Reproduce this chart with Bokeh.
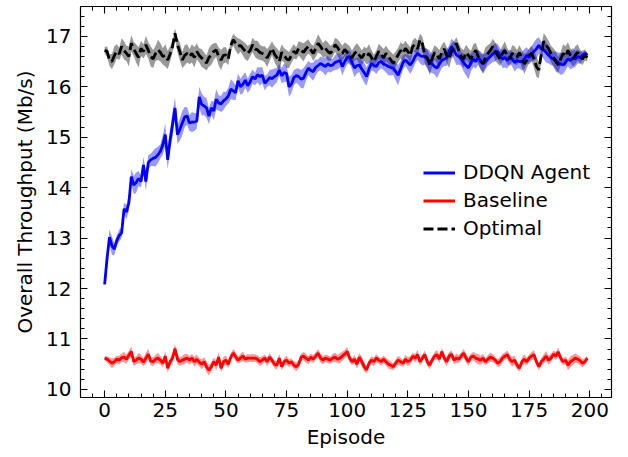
from bokeh.plotting import figure
from bokeh.models import (ColumnDataSource, Range1d, LinearAxis, SingleIntervalTicker,
                          Legend, LegendItem)
from bokeh.embed import file_html
from bokeh.resources import INLINE

episodes = list(range(200))

ddqn_mean = [
    12.08, 12.60, 13.02, 12.85, 12.78, 12.95, 13.05, 13.10, 13.58, 13.52,
    13.70, 14.22, 14.05, 14.10, 14.18, 14.12, 14.45, 14.12, 14.50, 14.55,
    14.58, 14.60, 14.65, 14.72, 14.85, 15.05, 14.55, 14.95, 15.25, 15.58,
    15.05, 15.15, 15.28, 15.40, 15.42, 15.28, 15.30, 15.30, 15.32, 15.80,
    15.65, 15.62, 15.58, 15.42, 15.58, 15.52, 15.75, 15.68, 15.66, 15.72,
    15.76, 15.82, 15.95, 15.92, 15.88, 16.12, 16.00, 16.05, 16.13, 16.02,
    16.10, 16.20, 16.15, 16.24, 16.20, 16.23, 16.07, 16.12, 16.18, 16.16,
    16.20, 16.23, 16.33, 16.22, 16.28, 16.26, 16.00, 16.05, 16.18, 16.22,
    16.20, 16.15, 16.17, 16.28, 16.37, 16.32, 16.30, 16.38, 16.42, 16.46,
    16.43, 16.40, 16.45, 16.42, 16.43, 16.48, 16.50, 16.52, 16.40, 16.50,
    16.58, 16.60, 16.48, 16.37, 16.42, 16.43, 16.35, 16.28, 16.20, 16.35,
    16.46, 16.42, 16.40, 16.48, 16.50, 16.45, 16.43, 16.40, 16.38, 16.37,
    16.30, 16.23, 16.35, 16.48, 16.53, 16.48, 16.43, 16.50, 16.60, 16.66,
    16.62, 16.60, 16.60, 16.55, 16.50, 16.45, 16.40, 16.37, 16.45, 16.52,
    16.55, 16.57, 16.70, 16.80, 16.72, 16.63, 16.60, 16.55, 16.48, 16.42,
    16.37, 16.48, 16.55, 16.50, 16.58, 16.52, 16.45, 16.50, 16.55, 16.60,
    16.65, 16.68, 16.70, 16.62, 16.55, 16.58, 16.52, 16.60, 16.55, 16.48,
    16.52, 16.50, 16.50, 16.55, 16.62, 16.58, 16.65, 16.70, 16.75, 16.82,
    16.75, 16.73, 16.68, 16.62, 16.58, 16.55, 16.52, 16.48, 16.45, 16.43,
    16.48, 16.55, 16.52, 16.57, 16.55, 16.60, 16.58, 16.62, 16.66, 16.62,
]
ddqn_std = [
    0.05, 0.10, 0.15, 0.18, 0.12, 0.10, 0.12, 0.10, 0.12, 0.14, 0.16, 0.15, 0.18, 0.20, 0.15, 0.12, 0.16, 0.18, 0.14, 0.12,
    0.15, 0.18, 0.16, 0.14, 0.20, 0.22, 0.18, 0.20, 0.25, 0.20, 0.18, 0.22, 0.24, 0.20, 0.18, 0.16, 0.20, 0.18, 0.15, 0.20,
    0.22, 0.18, 0.20, 0.16, 0.14, 0.18, 0.20, 0.15, 0.16, 0.18, 0.14, 0.16, 0.20, 0.18, 0.15, 0.14, 0.16, 0.18, 0.15, 0.14,
    0.16, 0.14, 0.12, 0.15, 0.18, 0.16, 0.14, 0.12, 0.15, 0.18, 0.16, 0.14, 0.12, 0.15, 0.18, 0.16, 0.20, 0.18, 0.15, 0.14,
    0.16, 0.18, 0.20, 0.16, 0.14, 0.15, 0.18, 0.16, 0.12, 0.14, 0.15, 0.18, 0.16, 0.14, 0.12, 0.15, 0.16, 0.14, 0.18, 0.15,
    0.14, 0.12, 0.15, 0.18, 0.16, 0.14, 0.18, 0.20, 0.18, 0.15, 0.14, 0.12, 0.15, 0.16, 0.14, 0.12, 0.15, 0.18, 0.16, 0.14,
    0.18, 0.20, 0.16, 0.14, 0.12, 0.15, 0.18, 0.16, 0.14, 0.12, 0.15, 0.18, 0.16, 0.20, 0.22, 0.18, 0.16, 0.20, 0.18, 0.15,
    0.14, 0.16, 0.12, 0.15, 0.18, 0.20, 0.16, 0.14, 0.18, 0.20, 0.22, 0.18, 0.16, 0.14, 0.15, 0.18, 0.20, 0.16, 0.14, 0.15,
    0.16, 0.18, 0.15, 0.14, 0.18, 0.20, 0.16, 0.14, 0.15, 0.18, 0.16, 0.14, 0.18, 0.20, 0.16, 0.14, 0.15, 0.18, 0.20, 0.16,
    0.14, 0.18, 0.20, 0.16, 0.15, 0.14, 0.18, 0.20, 0.22, 0.18, 0.16, 0.14, 0.18, 0.20, 0.16, 0.14, 0.12, 0.10, 0.08, 0.06,
]

baseline_mean = [
    10.62, 10.60, 10.56, 10.52, 10.55, 10.60, 10.58, 10.63, 10.64, 10.60,
    10.68, 10.75, 10.55, 10.58, 10.62, 10.60, 10.54, 10.62, 10.70, 10.56,
    10.55, 10.60, 10.62, 10.58, 10.52, 10.66, 10.42, 10.55, 10.62, 10.81,
    10.60, 10.55, 10.58, 10.60, 10.62, 10.58, 10.62, 10.55, 10.60, 10.54,
    10.50, 10.55, 10.45, 10.38, 10.45, 10.55, 10.48, 10.64, 10.42, 10.55,
    10.58, 10.50, 10.64, 10.72, 10.65, 10.58, 10.62, 10.66, 10.60, 10.62,
    10.62, 10.62, 10.62, 10.60, 10.55, 10.58, 10.62, 10.55, 10.64, 10.58,
    10.50, 10.48, 10.62, 10.45, 10.55, 10.58, 10.52, 10.55, 10.48, 10.45,
    10.50, 10.64, 10.66, 10.62, 10.58, 10.64, 10.60, 10.66, 10.72, 10.62,
    10.58, 10.62, 10.60, 10.58, 10.62, 10.64, 10.60, 10.62, 10.66, 10.70,
    10.75, 10.62, 10.55, 10.60, 10.50, 10.64, 10.55, 10.45, 10.39, 10.52,
    10.58, 10.55, 10.62, 10.58, 10.55, 10.60, 10.55, 10.50, 10.48, 10.45,
    10.52, 10.58, 10.55, 10.52, 10.60, 10.55, 10.58, 10.66, 10.62, 10.69,
    10.55, 10.62, 10.69, 10.55, 10.48, 10.58, 10.66, 10.69, 10.60, 10.75,
    10.62, 10.55, 10.66, 10.70, 10.58, 10.62, 10.60, 10.66, 10.72, 10.62,
    10.55, 10.64, 10.66, 10.62, 10.60, 10.58, 10.62, 10.55, 10.60, 10.64,
    10.62, 10.58, 10.52, 10.55, 10.62, 10.66, 10.69, 10.60, 10.55, 10.58,
    10.48, 10.42, 10.55, 10.60, 10.55, 10.62, 10.66, 10.69, 10.55, 10.45,
    10.55, 10.60, 10.66, 10.58, 10.62, 10.70, 10.66, 10.74, 10.62, 10.55,
    10.58, 10.48, 10.55, 10.58, 10.62, 10.60, 10.57, 10.52, 10.55, 10.62,
]
baseline_std = [
    0.04, 0.06, 0.08, 0.10, 0.08, 0.07, 0.09, 0.08, 0.10, 0.09, 0.08, 0.10, 0.09, 0.08, 0.10, 0.09, 0.08, 0.11, 0.10, 0.08,
    0.09, 0.08, 0.10, 0.09, 0.08, 0.10, 0.09, 0.08, 0.10, 0.09, 0.10, 0.08, 0.09, 0.10, 0.08, 0.09, 0.08, 0.10, 0.09, 0.08,
    0.10, 0.09, 0.11, 0.10, 0.09, 0.08, 0.10, 0.09, 0.08, 0.10, 0.09, 0.08, 0.07, 0.08, 0.09, 0.07, 0.08, 0.09, 0.07, 0.08,
    0.07, 0.08, 0.07, 0.08, 0.09, 0.08, 0.07, 0.09, 0.08, 0.07, 0.08, 0.09, 0.08, 0.07, 0.08, 0.09, 0.08, 0.07, 0.08, 0.09,
    0.08, 0.07, 0.08, 0.09, 0.08, 0.07, 0.08, 0.07, 0.08, 0.09, 0.08, 0.07, 0.08, 0.07, 0.08, 0.09, 0.08, 0.10, 0.09, 0.08,
    0.09, 0.08, 0.07, 0.08, 0.09, 0.08, 0.10, 0.09, 0.08, 0.07, 0.08, 0.09, 0.08, 0.07, 0.08, 0.07, 0.08, 0.09, 0.08, 0.07,
    0.08, 0.09, 0.08, 0.07, 0.08, 0.09, 0.08, 0.07, 0.08, 0.09, 0.08, 0.07, 0.08, 0.09, 0.08, 0.07, 0.08, 0.09, 0.08, 0.07,
    0.08, 0.09, 0.08, 0.07, 0.08, 0.09, 0.08, 0.07, 0.08, 0.09, 0.08, 0.07, 0.08, 0.09, 0.10, 0.09, 0.08, 0.07, 0.08, 0.09,
    0.08, 0.07, 0.08, 0.09, 0.08, 0.07, 0.08, 0.09, 0.10, 0.09, 0.08, 0.07, 0.08, 0.09, 0.08, 0.07, 0.08, 0.09, 0.08, 0.07,
    0.08, 0.09, 0.10, 0.09, 0.08, 0.07, 0.08, 0.09, 0.08, 0.07, 0.08, 0.10, 0.11, 0.10, 0.09, 0.08, 0.09, 0.08, 0.07, 0.05,
]

optimal_mean = [
    16.72, 16.70, 16.53, 16.50, 16.62, 16.70, 16.65, 16.80, 16.72, 16.66,
    16.60, 16.86, 16.75, 16.66, 16.58, 16.76, 16.70, 16.83, 16.72, 16.60,
    16.55, 16.66, 16.73, 16.68, 16.60, 16.62, 16.53, 16.65, 16.80, 17.06,
    16.83, 16.70, 16.53, 16.62, 16.66, 16.60, 16.66, 16.58, 16.70, 16.62,
    16.57, 16.52, 16.47, 16.58, 16.63, 16.70, 16.73, 16.60, 16.53, 16.62,
    16.63, 16.55, 16.82, 16.93, 16.86, 16.80, 16.82, 16.76, 16.70, 16.66,
    16.72, 16.83, 16.75, 16.73, 16.68, 16.66, 16.64, 16.57, 16.66, 16.76,
    16.65, 16.58, 16.50, 16.68, 16.62, 16.55, 16.53, 16.62, 16.70, 16.66,
    16.76, 16.72, 16.68, 16.75, 16.80, 16.73, 16.66, 16.75, 16.86, 16.80,
    16.72, 16.76, 16.70, 16.66, 16.72, 16.83, 16.78, 16.70, 16.66, 16.74,
    16.68, 16.62, 16.57, 16.66, 16.70, 16.62, 16.57, 16.65, 16.60, 16.66,
    16.58, 16.50, 16.60, 16.70, 16.64, 16.57, 16.66, 16.60, 16.53, 16.46,
    16.55, 16.63, 16.72, 16.66, 16.76, 16.70, 16.62, 16.80, 16.83, 16.75,
    16.93, 16.85, 16.62, 16.57, 16.43, 16.55, 16.68, 16.62, 16.55, 16.68,
    16.75, 16.62, 16.55, 16.70, 16.76, 16.86, 16.72, 16.60, 16.55, 16.68,
    16.62, 16.55, 16.66, 16.72, 16.60, 16.50, 16.46, 16.58, 16.66, 16.72,
    16.80, 16.70, 16.62, 16.55, 16.66, 16.72, 16.60, 16.55, 16.66, 16.62,
    16.58, 16.68, 16.55, 16.45, 16.52, 16.62, 16.66, 16.55, 16.40, 16.33,
    16.65, 16.90, 16.82, 16.76, 16.65, 16.58, 16.50, 16.43, 16.55, 16.66,
    16.60, 16.72, 16.62, 16.55, 16.62, 16.68, 16.60, 16.55, 16.62, 16.58,
]
optimal_std = [
    0.06, 0.10, 0.12, 0.15, 0.18, 0.14, 0.12, 0.16, 0.18, 0.15, 0.20, 0.16, 0.14, 0.18, 0.20, 0.15, 0.14, 0.18, 0.16, 0.20,
    0.18, 0.15, 0.20, 0.18, 0.16, 0.22, 0.18, 0.15, 0.12, 0.10, 0.14, 0.18, 0.16, 0.20, 0.18, 0.15, 0.18, 0.20, 0.16, 0.14,
    0.18, 0.16, 0.15, 0.18, 0.20, 0.16, 0.14, 0.18, 0.20, 0.16, 0.15, 0.12, 0.10, 0.12, 0.14, 0.16, 0.12, 0.14, 0.16, 0.15,
    0.12, 0.14, 0.16, 0.18, 0.15, 0.14, 0.16, 0.18, 0.15, 0.14, 0.16, 0.18, 0.20, 0.16, 0.14, 0.18, 0.16, 0.15, 0.14, 0.12,
    0.14, 0.16, 0.18, 0.15, 0.14, 0.12, 0.15, 0.16, 0.18, 0.15, 0.14, 0.16, 0.18, 0.15, 0.12, 0.14, 0.16, 0.18, 0.15, 0.14,
    0.16, 0.18, 0.15, 0.14, 0.16, 0.18, 0.15, 0.14, 0.16, 0.18, 0.15, 0.14, 0.12, 0.15, 0.16, 0.18, 0.15, 0.14, 0.16, 0.18,
    0.15, 0.14, 0.16, 0.18, 0.15, 0.14, 0.16, 0.12, 0.14, 0.16, 0.12, 0.14, 0.16, 0.18, 0.20, 0.16, 0.14, 0.16, 0.18, 0.15,
    0.14, 0.16, 0.18, 0.15, 0.14, 0.12, 0.14, 0.16, 0.18, 0.15, 0.14, 0.16, 0.18, 0.15, 0.14, 0.16, 0.18, 0.20, 0.16, 0.14,
    0.15, 0.18, 0.16, 0.14, 0.15, 0.18, 0.16, 0.14, 0.16, 0.18, 0.15, 0.14, 0.18, 0.20, 0.16, 0.14, 0.15, 0.18, 0.20, 0.16,
    0.14, 0.16, 0.18, 0.15, 0.16, 0.18, 0.20, 0.16, 0.14, 0.18, 0.20, 0.16, 0.14, 0.15, 0.18, 0.16, 0.14, 0.12, 0.10, 0.08,
]

series_labels = ["DDQN Agent", "Baseline", "Optimal"]
x_label = "Episode"
y_label = "Overall Throughput (Mb/s)"

FONT = "DejaVu Sans"
FS = "20px"


def src(mean, std):
    return ColumnDataSource(dict(
        x=episodes, y=mean,
        lo=[m - s for m, s in zip(mean, std)],
        hi=[m + s for m, s in zip(mean, std)],
    ))


p = figure(width=628, height=457, output_backend="svg", toolbar_location=None,
           x_range=Range1d(-9.95, 208.95), y_range=Range1d(9.84, 17.59),
           min_border_left=80, min_border_right=17, min_border_top=6, min_border_bottom=60,
           x_axis_label=x_label, y_axis_label=y_label)
p.grid.visible = False
p.outline_line_color = "black"
p.outline_line_width = 1.1
p.background_fill_color = "white"
p.border_fill_color = "white"

s_ddqn = src(ddqn_mean, ddqn_std)
s_base = src(baseline_mean, baseline_std)
s_opt = src(optimal_mean, optimal_std)

p.varea(x="x", y1="lo", y2="hi", source=s_opt, fill_color="black", fill_alpha=0.4)
p.varea(x="x", y1="lo", y2="hi", source=s_ddqn, fill_color="blue", fill_alpha=0.4)
p.varea(x="x", y1="lo", y2="hi", source=s_base, fill_color="red", fill_alpha=0.4)

r_ddqn = p.line(x="x", y="y", source=s_ddqn, line_color="blue", line_width=2.8)
r_base = p.line(x="x", y="y", source=s_base, line_color="red", line_width=2.8)
r_opt = p.line(x="x", y="y", source=s_opt, line_color="black", line_width=2.8,
               line_dash="10 4")

legend = Legend(items=[LegendItem(label=series_labels[0], renderers=[r_ddqn]),
                       LegendItem(label=series_labels[1], renderers=[r_base]),
                       LegendItem(label=series_labels[2], renderers=[r_opt])],
                location=(343, 157), orientation="vertical",
                border_line_alpha=0, background_fill_alpha=0,
                label_text_font=FONT, label_text_font_size=FS,
                label_text_color="black",
                glyph_width=32, glyph_height=21, label_height=21,
                label_standoff=8, spacing=4, padding=0, margin=0)
p.add_layout(legend, "center")

# extra axes for top/right ticks
p.add_layout(LinearAxis(), "above")
p.add_layout(LinearAxis(), "right")

for ax in p.xaxis:
    ax.ticker = SingleIntervalTicker(interval=25, num_minor_ticks=5)
for ax in p.yaxis:
    ax.ticker = SingleIntervalTicker(interval=1, num_minor_ticks=5)

for ax in p.axis:
    ax.major_tick_in = 7
    ax.major_tick_out = 0
    ax.minor_tick_in = 4
    ax.minor_tick_out = 0
    ax.axis_line_color = "black"
    ax.major_tick_line_color = "black"
    ax.minor_tick_line_color = "black"
    ax.axis_line_width = 1.1
    ax.major_tick_line_width = 1.1
    ax.minor_tick_line_width = 1.0
    ax.major_label_text_font = FONT
    ax.major_label_text_font_size = FS
    ax.major_label_text_color = "black"
    ax.axis_label_text_font = FONT
    ax.axis_label_text_font_size = FS
    ax.axis_label_text_font_style = "normal"
    ax.axis_label_text_color = "black"

p.xaxis[0].major_label_standoff = 2
p.xaxis[0].axis_label_standoff = 10
p.yaxis[0].major_label_standoff = 9
p.yaxis[0].axis_label_standoff = 6

for ax in (p.above[0], p.right[0]):
    ax.major_label_text_font_size = "0px"
    ax.major_label_text_alpha = 0
    ax.major_label_standoff = 0

open("out.html", "w").write(file_html(p, INLINE))
